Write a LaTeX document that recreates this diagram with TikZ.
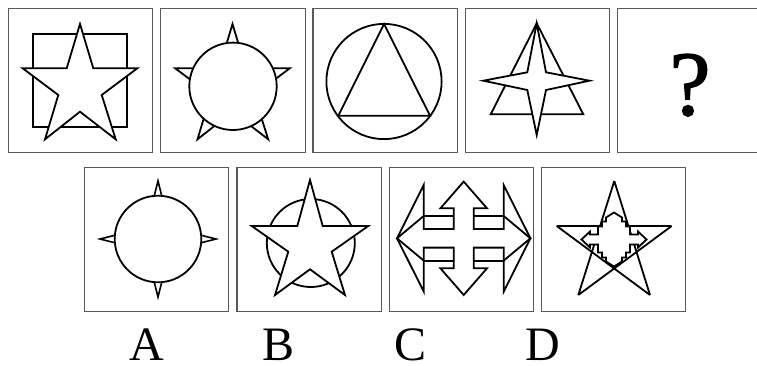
\documentclass[tikz,border=0pt]{standalone}
\usepackage{fontspec}
\setmainfont{Liberation Serif}
\newfontfamily\qfont[FakeBold=1.5]{Liberation Serif}
\begin{document}
\begin{tikzpicture}[x=1pt,y=-1pt,
  frame/.style={draw=black!65, line width=1.3pt},
  fig/.style={draw=black, line width=1.8pt, line join=miter},
  figw/.style={fig, fill=white},
  lbl/.style={anchor=base, inner sep=0pt, font=\fontsize{48}{50}\selectfont}]
\useasboundingbox (0,0) rectangle (757,365);
\fill[white] (0,0) rectangle (757,365);
% frames
\foreach \x in {8.3,160.8,313.1,465.3,617.5} \draw[frame] (\x,8.3) rectangle ++(144.5,144.5);
\foreach \x in {84.3,237,389.3,541.3} \draw[frame] (\x,167.3) rectangle ++(144.5,144.5);
% Box 1
\draw[fig] (33.3,34.3) rectangle (126.7,127.3);
\draw[figw] (80,24) -- (93.3,68.3) -- (137.3,68.3) -- (101.7,95) -- (115.7,139.3) -- (80,111.7) -- (45,139.3) -- (58.3,95) -- (22.7,68.3) -- (66.7,68.3) -- cycle;
% Box 2
\begin{scope}[shift={(152.5,0)}]
\draw[figw] (80,24) -- (93.3,68.3) -- (137.3,68.3) -- (101.7,95) -- (115.7,139.3) -- (80,111.7) -- (45,139.3) -- (58.3,95) -- (22.7,68.3) -- (66.7,68.3) -- cycle;
\end{scope}
\draw[figw] (233,86.3) circle[radius=43.7pt];
% Box 3
\draw[fig] (384,81.5) circle[radius=57.6pt];
\draw[fig] (384,24) -- (338.3,115.7) -- (430,115.7) -- cycle;
% Box 4
\draw[fig] (536.7,23.3) -- (490.7,114.3) -- (583.3,114.3) -- cycle;
\draw[figw] (536.7,23.3) -- (546,72.3) -- (589.5,80.7) -- (546,90) -- (536.7,135) -- (527.3,90) -- (483.3,80.7) -- (527.3,72.3) -- cycle;
% Box 5
\node[anchor=base, inner sep=0pt, font=\qfont\fontsize{92}{92}\selectfont] (q) at (690,115) {?};
% Box A
\begin{scope}[shift={(158,239)}]
\foreach \a in {0,90,180,270}{
  \draw[fig, line width=1.6pt, rotate=\a] (-3.8,-42.9) .. controls (-1.1,-50) .. (0,-58) .. controls (1.1,-50) .. (3.8,-42.9);
}
\end{scope}
\draw[figw] (158,239) circle[radius=43.3pt];
% Box B
\draw[fig] (310.8,243) circle[radius=44pt];
\draw[figw] (310,180) -- (322.7,226) -- (368.3,226) -- (331.7,251.7) -- (345,295) -- (310,269.3) -- (275,295) -- (288.3,251.7) -- (251.7,226) -- (297.3,226) -- cycle;
% Box C
\begin{scope}[shift={(463.7,238.3)}]
\draw[fig] (0,-56.7) -- (23.3,-30) -- (10,-30) -- (10,-9.3) -- (40,-9.3) -- (40,-53.3) -- (66.7,0) -- (40,53.3) -- (40,9.3) -- (10,9.3) -- (10,30) -- (23.3,30) -- (0,56.7) -- (-23.3,30) -- (-10,30) -- (-10,9.3) -- (-40,9.3) -- (-40,53.3) -- (-66.7,0) -- (-40,-53.3) -- (-40,-9.3) -- (-10,-9.3) -- (-10,-30) -- (-23.3,-30) -- cycle;
\draw[fig] (-40,-22.3) -- (-10,-22.3) (40,-22.3) -- (10,-22.3) (-40,22.3) -- (-10,22.3) (40,22.3) -- (10,22.3);
\draw[fig] (-40,-22.3) -- (-66.7,0) -- (-40,22.3) (40,-22.3) -- (66.7,0) -- (40,22.3);
\end{scope}
% Box D
\draw[fig] (614.3,181) -- (578.3,295) (614.3,181) -- (650,295) (556.7,226) -- (671.7,226) (556.7,226) -- (650,295) (671.7,226) -- (578.3,295);
\begin{scope}[shift={(614,239.5)}]
\draw[figw] (0,-27) -- (8,-22) -- (8,-18) -- (12,-18) -- (12,-13) -- (16,-13) -- (16,-5) -- (24,-5) -- (24,-8) -- (32.5,0) -- (24,8) -- (24,5) -- (16,5) -- (16,13) -- (12,13) -- (12,18) -- (8,18) -- (8,22) -- (0,27) -- (-8,22) -- (-8,18) -- (-12,18) -- (-12,13) -- (-16,13) -- (-16,5) -- (-24,5) -- (-24,8) -- (-32.5,0) -- (-24,-8) -- (-24,-5) -- (-16,-5) -- (-16,-13) -- (-12,-13) -- (-12,-18) -- (-8,-18) -- (-8,-22) -- cycle;
\end{scope}
% labels
\node[lbl] (lA) at (146.7,360.5) {A};
\node[lbl] (lB) at (278.7,360.5) {B};
\node[lbl] (lC) at (410.8,360.5) {C};
\node[lbl] (lD) at (543.3,360.5) {D};
\end{tikzpicture}
\end{document}
